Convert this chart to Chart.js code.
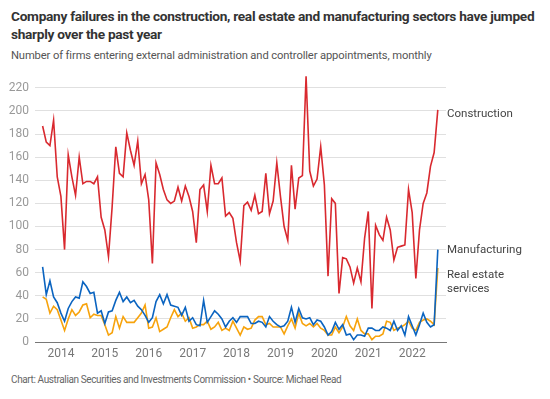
<!DOCTYPE html>
<html lang="en">
<head>
  <meta charset="UTF-8" />
  <title>Company failures</title>
  <script src="https://cdn.jsdelivr.net/npm/chart.js"></script>
  <style>
    body { margin: 0; width: 550px; height: 399px; background: #fff; position: relative;
           font-family: "Roboto", "Open Sans", sans-serif; }
    h1 { position: absolute; left: 11px; top: 7px; margin: 0; font-size: 13.7px; line-height: 18px;
         font-weight: bold; color: #333; letter-spacing: -0.3px; white-space: nowrap; }
    .sub { position: absolute; left: 11px; top: 49px; margin: 0; font-size: 11.2px; color: #555; letter-spacing: -0.12px; }
    .foot { position: absolute; left: 11px; top: 374px; margin: 0; font-size: 10px; color: #666; letter-spacing: -0.38px; }
    #wrap { position: absolute; left: 0; top: 70px; width: 550px; height: 300px; }
  </style>
</head>
<body>

  <h1>Company failures in the construction, real estate and manufacturing sectors have jumped<br>sharply over the past year</h1>
  <p class="sub">Number of firms entering external administration and controller appointments, monthly</p>
  <div id="wrap"><canvas id="failChart"></canvas></div>
  <p class="foot">Chart: Australian Securities and Investments Commission • Source: Michael Read</p>

  <script>
    // monthly, Aug 2013 .. Aug 2022
    const startYear = 2013, startMonth = 8;
    const construction = [
      187, 173, 170, 192, 143, 126, 80, 162, 143, 127, 160, 137, 139, 139, 137, 143, 108, 97, 74, 117,
      169, 146, 143, 181, 166, 153, 174, 137, 145, 123, 68, 155, 145, 132, 123, 120, 122, 134, 122, 135,
      126, 113, 86, 132, 136, 113, 153, 137, 137, 142, 109, 112, 107, 86, 70, 118, 121, 114, 127, 111,
      113, 146, 111, 122, 155, 126, 100, 88, 153, 115, 142, 144, 230, 148, 135, 141, 169, 136, 57, 124,
      120, 42, 73, 72, 65, 51, 64, 52, 90, 113, 29, 101, 93, 88, 108, 97, 71, 82, 83, 84,
      132, 112, 55, 97, 120, 129, 152, 164, 201
    ];
    const manufacturing = [
      65, 41, 53, 39, 34, 25, 18, 29, 35, 39, 38, 52, 48, 42, 43, 25, 27, 16, 26, 27,
      36, 43, 35, 39, 34, 36, 31, 28, 23, 17, 21, 35, 41, 33, 41, 32, 31, 30, 23, 30,
      18, 21, 15, 14, 36, 17, 22, 27, 24, 20, 13, 18, 21, 17, 22, 22, 22, 16, 16, 18,
      17, 13, 22, 18, 15, 13, 14, 18, 30, 17, 29, 21, 20, 21, 15, 19, 18, 13, 6, 9,
      17, 11, 15, 6, 7, 2, 6, 6, 5, 12, 12, 10, 10, 13, 12, 10, 18, 10, 14, 6,
      22, 14, 6, 15, 25, 17, 13, 15, 80
    ];
    const realEstate = [
      39, 37, 25, 31, 28, 19, 10, 20, 28, 23, 26, 32, 33, 21, 24, 23, 23, 15, 6, 8,
      22, 12, 22, 17, 17, 17, 21, 25, 32, 12, 13, 21, 9, 11, 13, 21, 28, 22, 25, 18,
      21, 12, 13, 15, 15, 18, 11, 13, 17, 10, 12, 10, 18, 12, 6, 13, 11, 12, 19, 22,
      22, 15, 16, 13, 13, 13, 7, 14, 20, 12, 25, 16, 14, 16, 13, 16, 12, 10, 6, 6,
      13, 8, 13, 22, 14, 10, 20, 10, 7, 7, 2, 5, 5, 7, 18, 17, 10, 12, 13, 15,
      18, 12, 10, 17, 19, 20, 18, 15, 64
    ];
    const seriesNames = ['Construction', 'Manufacturing', 'Real estate services'];
    const endLabels = [['Construction'], ['Manufacturing'], ['Real estate', 'services']];
    const yTicks = [0, 20, 40, 60, 80, 100, 120, 140, 160, 180, 200, 220];

    // month positions as decimal years
    const months = construction.map((_, i) => {
      const m = startMonth - 1 + i;
      return startYear + Math.floor(m / 12) + (m % 12) / 12;
    });
    const toPoints = arr => arr.map((v, i) => ({ x: months[i], y: v }));

    const labelFont = '"Roboto", sans-serif';

    const endLabelPlugin = {
      id: 'endLabels',
      afterDatasetsDraw(chart) {
        const ctx = chart.ctx;
        ctx.save();
        ctx.font = '11.5px ' + labelFont;
        ctx.fillStyle = '#444';
        ctx.textBaseline = 'middle';
        chart.data.datasets.forEach((ds, i) => {
          const pts = chart.getDatasetMeta(i).data;
          const last = pts[pts.length - 1];
          const lines = endLabels[i];
          const off = i === 2 ? 7 : (i === 0 ? 4 : 1);
          lines.forEach((t, j) => {
            ctx.fillText(t, chart.chartArea.right + 1, last.y + off + j * 14);
          });
        });
        ctx.restore();
      }
    };

    new Chart(document.getElementById('failChart'), {
      type: 'line',
      data: {
        datasets: [
          { label: seriesNames[0], data: toPoints(construction), borderColor: '#d9292f' },
          { label: seriesNames[1], data: toPoints(manufacturing), borderColor: '#0b64c0' },
          { label: seriesNames[2], data: toPoints(realEstate), borderColor: '#f7a30c' }
        ]
      },
      options: {
        responsive: true,
        maintainAspectRatio: false,
        animation: false,
        elements: {
          line: { borderWidth: 1.6, tension: 0 },
          point: { radius: 0 }
        },
        layout: { padding: { top: 4, right: 104, left: 0, bottom: 0 } },
        plugins: { legend: { display: false }, tooltip: { enabled: false } },
        scales: {
          x: {
            type: 'linear',
            min: 2013.41,
            max: 2022.77,
            grid: { display: false, drawTicks: false },
            border: { color: '#777', width: 1 },
            ticks: {
              stepSize: 1,
              includeBounds: false,
              padding: 5,
              color: '#777',
              font: { size: 12, family: labelFont },
              callback: v => String(v)
            },
            afterFit: s => { s.height = 28; }
          },
          y: {
            min: 0,
            max: 232,
            afterBuildTicks: s => { s.ticks = yTicks.map(v => ({ value: v })); },
            grid: {
              drawTicks: false,
              color: ctx => ctx.tick && ctx.tick.value === 0 ? '#777' : '#e0e0e0'
            },
            border: { display: false },
            ticks: {
              padding: 6,
              color: '#999',
              font: { size: 12, family: labelFont }
            },
            afterFit: s => { s.width = 35; s.paddingTop = 0; s.paddingBottom = 0; }
          }
        }
      },
      plugins: [endLabelPlugin]
    });
  </script>

</body>
</html>
